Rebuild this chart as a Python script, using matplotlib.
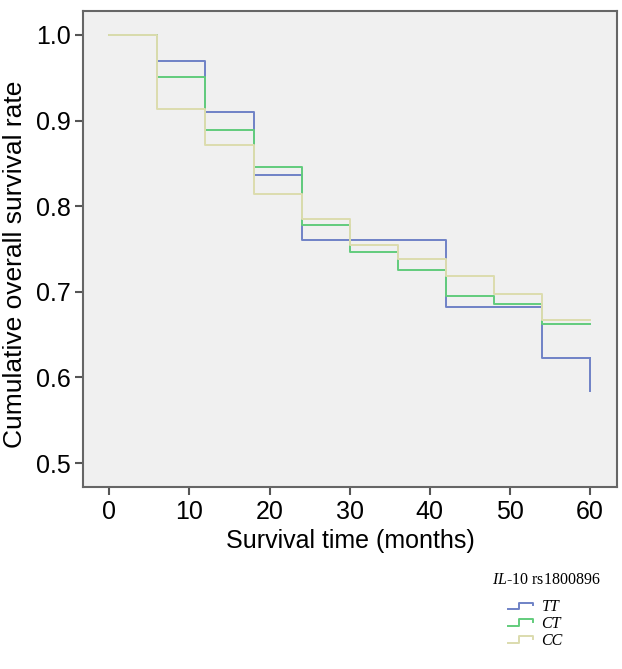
import matplotlib.pyplot as plt
from matplotlib.legend_handler import HandlerLine2D
from matplotlib.lines import Line2D

# Data (Kaplan-Meier step values)
times = [0, 6, 12, 18, 24, 30, 36, 42, 48, 54, 60]
tt = [1.0, 0.970, 0.910, 0.836, 0.760, 0.760, 0.760, 0.682, 0.682, 0.623, 0.623]
ct = [1.0, 0.951, 0.889, 0.846, 0.778, 0.746, 0.725, 0.695, 0.686, 0.662, 0.662]
cc = [1.0, 0.914, 0.871, 0.814, 0.785, 0.755, 0.738, 0.719, 0.697, 0.667, 0.667]
tt_end = 0.584
groups = ['TT', 'CT', 'CC']
colors = ['#6f82c6', '#62cc7c', '#dcdcae']

plt.rcParams['font.family'] = ['Liberation Sans', 'DejaVu Sans']
plt.rcParams['mathtext.fontset'] = 'custom'
plt.rcParams['mathtext.it'] = 'Liberation Serif:italic'
plt.rcParams['mathtext.rm'] = 'Liberation Serif'


class StepHandler(HandlerLine2D):
    def create_artists(self, legend, orig_handle, xdescent, ydescent,
                       width, height, fontsize, trans):
        y0 = height * 0.15 - ydescent
        y1 = height * 0.75 - ydescent
        xs = [-xdescent, -xdescent + width * 0.45, -xdescent + width * 0.45,
              -xdescent + width, -xdescent + width]
        ys = [y0, y0, y1, y1, y0 + (y1 - y0) * 0.6]
        ln = Line2D(xs, ys, color=orig_handle.get_color(),
                    lw=orig_handle.get_linewidth(), transform=trans)
        return [ln]


fig = plt.figure(figsize=(6.22, 6.69), dpi=100)
ax = fig.add_axes([0.1334, 0.272, 0.8586, 0.7116])
ax.set_facecolor('#f0f0f0')

handles = []
for name, vals, col in zip(groups, [tt, ct, cc], colors):
    h, = ax.step(times, vals, where='post', color=col, lw=1.4, label=name)
    handles.append(h)
# TT drops at the last time point
ax.plot([times[-1], times[-1]], [tt[-1], tt_end], color=colors[0], lw=1.4)

ax.set_xlim(-3.3, 63.4)
ax.set_ylim(0.472, 1.028)
ax.set_xticks([0, 10, 20, 30, 40, 50, 60])
ax.set_yticks([0.5, 0.6, 0.7, 0.8, 0.9, 1.0])
ax.set_yticklabels(['0.5', '0.6', '0.7', '0.8', '0.9', '1.0'])
ax.tick_params(labelsize=18, length=6, width=1.5, color='#555555', pad=3)
for s in ax.spines.values():
    s.set_color('#666666')
    s.set_linewidth(1.5)

ax.set_xlabel('Survival time (months)', fontsize=18, labelpad=4)
ax.set_ylabel('Cumulative overall survival rate', fontsize=19)
ax.yaxis.set_label_coords(-0.104, 0.468)

fig.text(0.791, 0.133, r'$\it{IL}$-$\it{10}$ rs1800896', fontsize=11.5,
         family='Liberation Serif', ha='left', va='center')

fig.legend(handles, groups, loc='upper left',
           bbox_to_anchor=(0.8167, 0.1046), bbox_transform=fig.transFigure,
           frameon=False, handlelength=1.55, handletextpad=0.55,
           labelspacing=0.05, borderaxespad=0, borderpad=0,
           prop={'family': 'Liberation Serif', 'style': 'italic', 'size': 11.5},
           handler_map={Line2D: StepHandler()})

fig.savefig('out.png', dpi=100)
